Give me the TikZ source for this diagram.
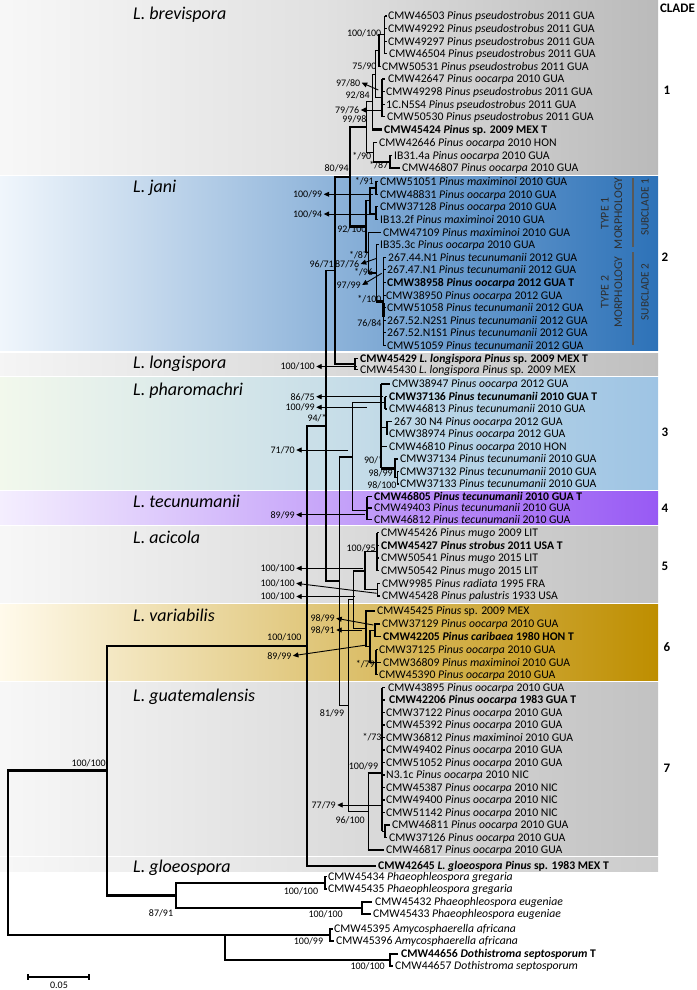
\documentclass[tikz,border=0pt]{standalone}
\usepackage{fontspec}
\setmainfont{Carlito}
\usetikzlibrary{arrows.meta}
\newcommand{\Pps}{\textit{Pinus pseudostrobus}}
\newcommand{\Poo}{\textit{Pinus oocarpa}}
\newcommand{\Pte}{\textit{Pinus tecunumanii}}
\newcommand{\Pmx}{\textit{Pinus maximinoi}}
\newcommand{\Pmu}{\textit{Pinus mugo}}
\newcommand{\tp}[3]{\node[tiplab] at (#1,#2+3.9) {#3};}
\newcommand{\bs}[3]{\node[bsl] at (#1,#2+3.4) {#3};}
\newcommand{\ptr}[5]{\node[bsl] (#1) at (#2,#3+3.4) {#4};\draw[ptrline] (#5) -- ([shift={(1.2pt,3.4pt)}]#1.base east);}
\newcommand{\nd}[5]{\draw[br] (#3,#2) -- (#1,#2) -- (#1,#4) -- (#5,#4);}
\begin{document}
\begin{tikzpicture}[x=1pt,y=-1pt,
 br/.style={line width=1.1pt},
 thk/.style={line width=2.4pt},
 med/.style={line width=1.7pt},
 tiplab/.style={anchor=base west,inner sep=0pt,font=\fontsize{11.7}{12}\selectfont},
 bsl/.style={anchor=base east,inner sep=0pt,font=\fontsize{10}{11}\selectfont},
 ptrline/.style={line width=0.9pt,-{Triangle[length=5.5pt,width=5pt]}},
 spc/.style={anchor=base west,inner sep=0pt,font=\fontsize{18}{20}\selectfont\itshape},
 cnum/.style={inner sep=0pt,font=\fontsize{13}{14}\selectfont\bfseries},
 rot/.style={rotate=90,inner sep=0pt,align=center,text=black!82,font=\fontsize{11.8}{13.5}\selectfont},
 rots/.style={rotate=90,inner sep=0pt,text=black!82,font=\fontsize{11.3}{13}\selectfont},
]
\path[use as bounding box] (0,0) rectangle (696,990);
% ---------- bands ----------
\shade[left color=black!3, right color=black!27, middle color=black!12] (0,0) rectangle (658,174);
\shade[left color={rgb,255:red,240;green,246;blue,252}, middle color={rgb,255:red,172;green,204;blue,236}, right color={rgb,255:red,45;green,114;blue,184}] (0,176.5) rectangle (658,350.5);
\shade[left color=black!4, right color=black!25] (0,353) rectangle (658,375);
\shade[left color={rgb,255:red,242;green,248;blue,236}, middle color={rgb,255:red,196;green,224;blue,176}, right color={rgb,255:red,158;green,196;blue,228}] (0,377.5) rectangle (658,489.5);
\shade[left color={rgb,255:red,244;green,238;blue,254}, middle color={rgb,255:red,202;green,168;blue,250}, right color={rgb,255:red,152;green,90;blue,244}] (0,491.5) rectangle (658,524);
\shade[left color=black!3, right color=black!24] (0,526.5) rectangle (658,602);
\shade[left color={rgb,255:red,255;green,250;blue,235}, middle color={rgb,255:red,255;green,230;blue,150}, right color={rgb,255:red,190;green,142;blue,0}] (0,604.5) rectangle (658,680);
\shade[left color=black!3, right color=black!24] (0,682.5) rectangle (658,855);
\shade[left color=black!3, right color=black!20] (0,857.5) rectangle (658,871);
% ---------- species names ----------
\node[spc] at (133,19.5) {L. brevispora};
\node[spc] at (133,192.5) {L. jani};
\node[spc] at (133,368.5) {L. longispora};
\node[spc] at (133,395) {L. pharomachri};
\node[spc] at (133,507.5) {L. tecunumanii};
\node[spc] at (133,543) {L. acicola};
\node[spc] at (133,621) {L. variabilis};
\node[spc] at (133,701) {L. guatemalensis};
\node[spc] at (133,872) {L. gloeospora};
% ---------- clade numbers ----------
\node[cnum] at (677.5,8.5) {CLADE};
\node[cnum] at (667,90) {1};
\node[cnum] at (665,257.3) {2};
\node[cnum] at (665,432.7) {3};
\node[cnum] at (665,508.3) {4};
\node[cnum] at (665,566) {5};
\node[cnum] at (667,647.3) {6};
\node[cnum] at (667,768.3) {7};
% ---------- morphology / subclade ----------
\node[rot] at (611.5,213.5) {TYPE 1\\MORPHOLOGY};
\node[rot] at (611.5,292) {TYPE 2\\MORPHOLOGY};
\node[rots] at (645,207.5) {SUBCLADE 1};
\node[rots] at (645,292) {SUBCLADE 2};
\draw[line width=2.2pt,black!65] (633.3,178) -- (633.3,247);
\draw[line width=2.2pt,black!65] (633.3,252) -- (633.3,345);
% ================= CLADE 1 =================
\tp{388}{16}{CMW46503 \Pps{} 2011 GUA}
\tp{388}{28.6}{CMW49292 \Pps{} 2011 GUA}
\tp{388}{41.2}{CMW49297 \Pps{} 2011 GUA}
\tp{389}{53.8}{CMW46504 \Pps{} 2011 GUA}
\tp{382}{66.4}{CMW50531 \Pps{} 2011 GUA}
\tp{388}{79}{CMW42647 \Poo{} 2010 GUA}
\tp{386}{91.6}{CMW49298 \Pps{} 2011 GUA}
\tp{386}{104.2}{1C.N5S4 \Pps{} 2011 GUA}
\tp{387}{116.8}{CMW50530 \Pps{} 2011 GUA}
\tp{384}{129.4}{\bfseries CMW45424 \textit{Pinus} sp. 2009 MEX T}
\tp{379}{142.5}{CMW42646 \Poo{} 2010 HON}
\tp{394}{155.5}{IB31.4a \Poo{} 2010 GUA}
\tp{402}{168}{CMW46807 \Poo{} 2010 GUA}
\draw[br] (384.5,16) -- (384.5,53.8);
\foreach \y in {16,28.6,41.2,53.8} \draw[br] (384.5,\y) -- (386.5,\y);
\nd{379}{34.9}{384.5}{66.4}{381}
\draw[br] (382,79) -- (382,116.8);
\foreach \y in {79,91.6,104.2,116.8} \draw[br] (382,\y) -- (385,\y);
\nd{375.5}{50.65}{379}{97.9}{382}
\draw[br] (375.5,74.3) -- (372.5,74.3) -- (372.5,129.4);
\draw[thk] (372,129.4) -- (382,129.4);
\nd{366.7}{101.85}{372.5}{152.1}{373.3}
\draw[br] (377,142.5) -- (373.3,142.5) -- (373.3,161.75);
\draw[thk] (373.3,161.75) -- (390,161.75);
\draw[br] (392,155.5) -- (390,155.5) -- (390,168) -- (400,168);
\bs{381.5}{32.7}{100/100}
\bs{376.7}{66.4}{75/90}
\bs{370}{95}{92/84}
\bs{366.7}{119.3}{99/98}
\bs{371.5}{155.7}{*/90}
\bs{388.5}{165.5}{*/87}
\bs{349}{168.5}{80/94}
\coordinate (s9780) at (378.3,90);
\coordinate (s7976) at (381.7,110);
\ptr{p9780}{360.5}{82.7}{97/80}{s9780}
\ptr{p7976}{359.5}{110}{79/76}{s7976}
% ================= CLADE 2 =================
\tp{380}{181.7}{CMW51051 \Pmx{} 2010 GUA}
\tp{380}{194.3}{CMW48831 \Poo{} 2010 GUA}
\tp{380}{206.9}{CMW37128 \Poo{} 2010 GUA}
\tp{380}{219.5}{IB13.2f \Pmx{} 2010 GUA}
\tp{383}{232.1}{CMW47109 \Pmx{} 2010 GUA}
\tp{380}{244.7}{IB35.3c \Poo{} 2010 GUA}
\tp{388}{257.3}{267.44.N1 \Pte{} 2012 GUA}
\tp{387}{269.9}{267.47.N1 \Pte{} 2012 GUA}
\tp{387}{282.5}{\bfseries CMW38958 \Poo{} 2012 GUA T}
\tp{386}{295.1}{CMW38950 \Poo{} 2012 GUA}
\tp{387}{307.7}{CMW51058 \Pte{} 2012 GUA}
\tp{387}{320.3}{267.52.N2S1 \Pte{} 2012 GUA}
\tp{387}{332.9}{267.52.N1S1 \Pte{} 2012 GUA}
\tp{387}{345.5}{CMW51059 \Pte{} 2012 GUA}
\draw[br] (378,181.7) -- (376,181.7) -- (376,194.3) -- (378,194.3);
\draw[br] (378,206.9) -- (376,206.9) -- (376,219.5) -- (378,219.5);
\nd{370}{188}{376}{213.2}{376}
\draw[br] (383.5,257.3) -- (383.5,345.5);
\draw[thk] (383.5,303) -- (383.5,317);
\foreach \y in {257.3,269.9,282.5,295.1,307.7,320.3,332.9,345.5} \draw[br] (383.5,\y) -- (385.5,\y);
\draw[br] (378.5,244.7) -- (376.7,244.7) -- (376.7,301.4);
\draw[thk] (376.2,301.4) -- (383.5,301.4);
\nd{368.3}{232.1}{381}{273}{376.7}
\nd{366}{200.6}{370}{252.55}{368.3}
\draw[med] (350,127) -- (350,226.6);
\draw[thk] (349.2,127) -- (366.7,127);
\draw[thk] (349.2,226.6) -- (366,226.6);
\bs{374}{181}{*/91}
\bs{366.7}{229.5}{92/100}
\bs{368.3}{255}{*/87}
\bs{334}{264}{96/71}
\bs{373.3}{271.7}{*/96}
\bs{381.7}{299}{*/100}
\bs{381.7}{323.3}{76/84}
\coordinate (s10099a) at (373.3,194.3);
\coordinate (s10094) at (375,214);
\coordinate (s8776) at (376.7,258.3);
\coordinate (s9799) at (381.7,273.3);
\ptr{p10099a}{322.5}{194.3}{100/99}{s10099a}
\ptr{p10094}{322.5}{214}{100/94}{s10094}
\ptr{p8776}{359.5}{264}{87/76}{s8776}
\ptr{p9799}{361}{285}{97/99}{s9799}
% ================= L. longispora =================
\tp{360}{358.5}{\bfseries CMW45429 \textit{L. longispora Pinus} sp. 2009 MEX T}
\tp{360}{369.5}{CMW45430 \textit{L. longispora Pinus} sp. 2009 MEX}
\draw[br] (358,358.5) -- (355,358.5) -- (355,369.5) -- (358,369.5);
\draw[thk] (334.2,176.8) -- (350,176.8);
\draw[br] (335,176.8) -- (335,364) -- (355,364);
\draw[br] (326,270.4) -- (335,270.4);
\coordinate (s100long) at (356.7,366.5);
\ptr{plong}{315}{366.5}{100/100}{s100long}
% ================= CLADE 3 =================
\tp{392}{384}{CMW38947 \Poo{} 2012 GUA}
\tp{389}{396.5}{\bfseries CMW37136 \Pte{} 2010 GUA T}
\tp{389}{409}{CMW46813 \Pte{} 2010 GUA}
\tp{394}{421.5}{267 30 N4 \Poo{} 2012 GUA}
\tp{389}{434}{CMW38974 \Poo{} 2012 GUA}
\tp{389}{446.5}{CMW46810 \Poo{} 2010 HON}
\tp{400}{459}{CMW37134 \Pte{} 2010 GUA}
\tp{400}{471.5}{CMW37132 \Pte{} 2010 GUA}
\tp{400}{484}{CMW37133 \Pte{} 2010 GUA}
\draw[br] (381,384) -- (381,468.4);
\draw[br] (381,384) -- (390,384);
\draw[br] (352.3,402.75) -- (385,402.75);
\draw[med] (385,396.5) -- (385,409);
\draw[br] (385,396.5) -- (387,396.5); \draw[br] (385,409) -- (387,409);
\draw[br] (381,427.75) -- (387,427.75);
\draw[br] (392,421.5) -- (387,421.5) -- (387,434) -- (388,434);
\draw[br] (381,446.5) -- (387,446.5);
\draw[thk] (381,468.4) -- (395,468.4);
\draw[br] (398,459) -- (395,459) -- (395,477.75) -- (397.5,477.75);
\draw[br] (399,471.5) -- (397.5,471.5) -- (397.5,484) -- (399,484);
\bs{383.3}{460}{90/*}
\bs{393}{472.7}{98/99}
\bs{396.7}{485.5}{98/100}
\bs{326.7}{418.3}{94/*}
\coordinate (s8675) at (383.3,396.7);
\coordinate (s10099b) at (366.7,407.3);
\coordinate (s7170) at (348.3,450);
\ptr{p8675}{315}{396.7}{86/75}{s8675}
\ptr{p10099b}{315}{407.3}{100/99}{s10099b}
\ptr{p7170}{295}{450}{71/70}{s7170}
% ================= CLADE 4 =================
\tp{374}{496.5}{\bfseries CMW46805 \Pte{} 2010 GUA T}
\tp{374}{508}{CMW49403 \Pte{} 2010 GUA}
\tp{374}{519.5}{CMW46812 \Pte{} 2010 GUA}
\draw[br] (367,496.5) -- (367,519.5);
\foreach \y in {496.5,508,519.5} \draw[br] (367,\y) -- (372,\y);
\draw[br] (352.3,402.75) -- (352.3,510.7) -- (367,510.7);
\draw[thk] (339.3,456.7) -- (352.3,456.7);
\coordinate (s8999a) at (365,514.7);
\ptr{p8999a}{295}{514.7}{89/99}{s8999a}
% ================= CLADE 5 =================
\tp{381}{532.7}{CMW45426 \Pmu{} 2009 LIT}
\tp{381}{545.3}{\bfseries CMW45427 \textit{Pinus strobus} 2011 USA T}
\tp{381}{558}{CMW50541 \Pmu{} 2015 LIT}
\tp{381}{570.7}{CMW50542 \Pmu{} 2015 LIT}
\tp{382}{583.3}{CMW9985 \textit{Pinus radiata} 1995 FRA}
\tp{382}{596}{CMW45428 \textit{Pinus palustris} 1933 USA}
\draw[br] (377,532.7) -- (377,570.7);
\foreach \y in {532.7,545.3,558,570.7} \draw[br] (377,\y) -- (379,\y);
\draw[br] (380,583.3) -- (377.5,583.3) -- (377.5,596) -- (380,596);
\nd{365}{551.7}{377}{589.65}{377.5}
\draw[thk] (353.3,570.7) -- (365,570.7);
\bs{376}{547.7}{100/95}
\coordinate (s100a) at (363.3,568.3);
\coordinate (s100b) at (376.7,593.3);
\coordinate (s100c) at (355,596.5);
\ptr{p100a}{295}{568.3}{100/100}{s100a}
\ptr{p100b}{295}{583.3}{100/100}{s100b}
\ptr{p100c}{295}{596.5}{100/100}{s100c}
% ================= CLADE 6 =================
\tp{377}{611}{CMW45425 \textit{Pinus} sp. 2009 MEX}
\tp{382}{624}{CMW37129 \Poo{} 2010 GUA}
\tp{383}{636.7}{\bfseries CMW42205 \textit{Pinus caribaea} 1980 HON T}
\tp{379}{649.7}{CMW37125 \Poo{} 2010 GUA}
\tp{383}{662.3}{CMW36809 \Pmx{} 2010 GUA}
\tp{379}{674.7}{CMW45390 \Poo{} 2010 GUA}
\draw[br] (380,624) -- (375,624) -- (375,636.7) -- (381,636.7);
\draw[br] (376,649.7) -- (376,674.7);
\foreach \y/\e in {649.7/377.5,662.3/381,674.7/377.5} \draw[br] (376,\y) -- (\e,\y);
\nd{370}{630.35}{375}{662.2}{376}
\nd{366}{611}{375}{646.3}{370}
\draw[br] (353.3,570.7) -- (353.3,628.6) -- (366,628.6);
\draw[br] (348.3,599.65) -- (353.3,599.65);
\bs{375}{664}{*/79}
\bs{301.7}{636.7}{100/100}
\coordinate (s9899) at (373.3,625);
\coordinate (s9891) at (361.7,630);
\coordinate (s8999b) at (366.7,645);
\ptr{p9899}{335}{618.3}{98/99}{s9899}
\ptr{p9891}{335}{630}{98/91}{s9891}
\ptr{p8999b}{291.7}{655.7}{89/99}{s8999b}
% ================= CLADE 7 =================
\tp{388}{687.5}{CMW43895 \Poo{} 2010 GUA}
\tp{389}{700}{\bfseries CMW42206 \Poo{} 1983 GUA T}
\tp{386}{712.5}{CMW37122 \Poo{} 2010 GUA}
\tp{386}{725}{CMW45392 \Poo{} 2010 GUA}
\tp{386}{737.5}{CMW36812 \Pmx{} 2010 GUA}
\tp{386}{750}{CMW49402 \Poo{} 2010 GUA}
\tp{386}{762.5}{CMW51052 \Poo{} 2010 GUA}
\tp{386}{775}{N3.1c \Poo{} 2010 NIC}
\tp{386}{787.5}{CMW45387 \Poo{} 2010 NIC}
\tp{386}{800}{CMW49400 \Poo{} 2010 NIC}
\tp{386}{812.5}{CMW51142 \Poo{} 2010 NIC}
\tp{392}{825}{CMW46811 \Poo{} 2010 GUA}
\tp{389}{837.5}{CMW37126 \Poo{} 2010 GUA}
\tp{386}{850}{CMW46817 \Poo{} 2010 GUA}
\draw[br] (382,687.5) -- (382,831.25);
\draw[thk] (382,700) -- (382,765);
\foreach \y in {687.5,700,712.5,725,737.5,750,762.5,775,787.5,800,812.5} \draw[br] (382,\y) -- (384.5,\y);
\draw[br] (382,831.25) -- (385,831.25);
\draw[br] (390,825) -- (385,825) -- (385,837.5) -- (387,837.5);
\draw[thk] (367.5,772.7) -- (382,772.7);
\draw[br] (368.3,772.7) -- (368.3,850);
\draw[thk] (367.5,850) -- (384,850);
\draw[br] (348.3,599.65) -- (348.3,811.35) -- (368.3,811.35);
\draw[br] (339.3,456.7) -- (339.3,705.5) -- (348.3,705.5);
\draw[br] (326,270.4) -- (326,581) -- (339.3,581);
\bs{344.3}{712.7}{81/99}
\bs{381.7}{736.7}{*/73}
\bs{378.3}{765.7}{100/99}
\bs{365}{820}{96/100}
\coordinate (s7779) at (380.7,805);
\ptr{p7779}{336}{805}{77/79}{s7779}
% ================= L. gloeospora & backbone =================
\tp{378}{866}{\bfseries CMW42645 \textit{L. gloeospora Pinus} sp. 1983 MEX T}
\draw[med] (307,425.7) -- (307,866);
\draw[thk] (306.2,425.7) -- (326,425.7);
\draw[thk] (306.2,866) -- (376,866);
\draw[thk] (106.2,645.85) -- (307.8,645.85);
% ================= OUTGROUPS =================
\tp{328}{876.5}{CMW45434 \textit{Phaeophleospora gregaria}}
\tp{328}{889}{CMW45435 \textit{Phaeophleospora gregaria}}
\tp{375}{902}{CMW45432 \textit{Phaeophleospora eugeniae}}
\tp{373}{914}{CMW45433 \textit{Phaeophleospora eugeniae}}
\tp{334}{929}{CMW45395 \textit{Amycosphaerella africana}}
\tp{336}{941}{CMW45396 \textit{Amycosphaerella africana}}
\tp{401}{954}{\bfseries CMW44656 \textit{Dothistroma septosporum} T}
\tp{395}{966}{CMW44657 \textit{Dothistroma septosporum}}
\draw[br] (326.5,876.5) -- (325,876.5) -- (325,889) -- (326.5,889);
\draw[br] (372,902) -- (362,902) -- (362,914) -- (371,914);
\draw[br] (176,882.75) -- (176,908);
\draw[thk] (175.2,882.75) -- (325,882.75);
\draw[thk] (175.2,908) -- (362,908);
\draw[thk] (106.2,895.4) -- (176,895.4);
\draw[br] (107,645.85) -- (107,895.4);
\draw[thk] (7.2,770.6) -- (107,770.6);
\draw[br] (8,770.6) -- (8,935) -- (330,935);
\draw[br] (332.5,929) -- (330,929) -- (330,941) -- (334,941);
\draw[br] (225,935) -- (225,960);
\draw[thk] (224.2,960) -- (390,960);
\draw[br] (398,954) -- (390,954) -- (390,966) -- (393,966);
\bs{106}{763.3}{100/100}
\bs{173.3}{913.3}{87/91}
\bs{318.3}{891}{100/100}
\bs{343}{914.5}{100/100}
\bs{323.3}{940.7}{100/99}
\bs{385}{966.5}{100/100}
% ---------- scale bar ----------
\draw[br] (28,977) -- (89,977);
\draw[br] (28,974) -- (28,980);
\draw[br] (89,974) -- (89,980);
\node[font=\fontsize{10}{11}\selectfont,inner sep=0pt] (scl) at (59,985.5) {0.05};
\end{tikzpicture}
\end{document}
